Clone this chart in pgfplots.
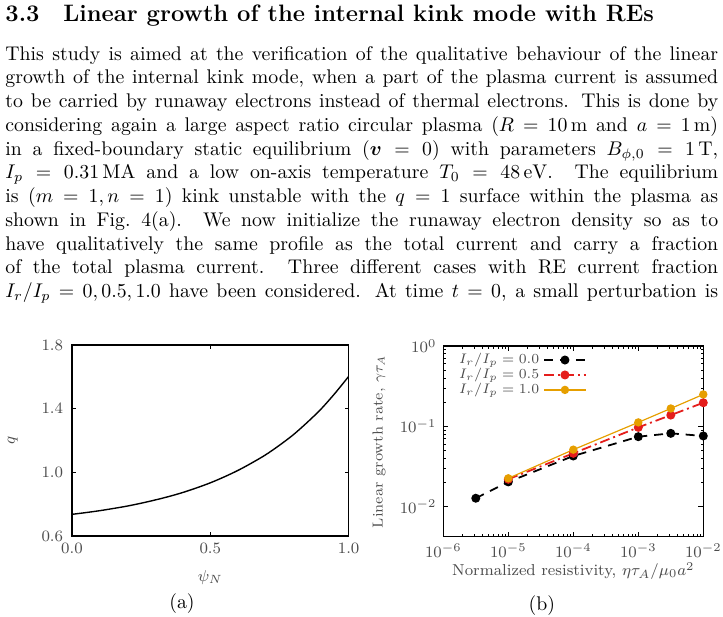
\documentclass[border=0pt]{standalone}
\usepackage{amsmath}
\usepackage{pgfplots}
\pgfplotsset{compat=1.18}
\definecolor{gpred}{RGB}{228,30,28}
\definecolor{gporange}{RGB}{230,159,0}
\definecolor{labgray}{gray}{0.3}

\begin{document}
\begin{tikzpicture}
\path[use as bounding box] (0,0) rectangle (365.15pt,-311.6pt);
\node[anchor=base west, inner sep=0, font=\large\bfseries] at (2.53pt,-10.96pt) {3.3\quad Linear growth of the internal kink mode with REs};
\node[anchor=base west, inner sep=0, text width=360pt, font=\normalsize] at (2.53pt,-30.3pt) {%
\spaceskip=0pt\relax\xspaceskip=0pt\relax\baselineskip=12.2pt\relax
\hbox to \hsize{This study is aimed at the verification of the qualitative behaviour of the linear}
\hbox to \hsize{growth of the internal kink mode, when a part of the plasma current is assumed}
\hbox to \hsize{to be carried by runaway electrons instead of thermal electrons. This is done by}
\hbox to \hsize{considering again a large aspect ratio circular plasma ($R=10\,\mathrm{m}$ and $a=1\,\mathrm{m}$)}
\hbox to \hsize{in a fixed-boundary static equilibrium ($\boldsymbol{v}=0$) with parameters $B_{\phi,0}=1\,\mathrm{T}$,}
\hbox to \hsize{$I_p=0.31\,\mathrm{MA}$ and a low on-axis temperature $T_0=48\,\mathrm{eV}$. The equilibrium}
\hbox to \hsize{is $(m=1,n=1)$ kink unstable with the $q=1$ surface within the plasma as}
\hbox to \hsize{shown in Fig.~4(a). We now initialize the runaway electron density so as to}
\hbox to \hsize{have qualitatively the same profile as the total current and carry a fraction}
\hbox to \hsize{of the total plasma current. Three different cases with RE current fraction}
\hbox to \hsize{$I_r/I_p=0,0.5,1.0$ have been considered. At time $t=0$, a small perturbation is}};

\begin{axis}[
  at={(36.36pt,-270.7pt)}, anchor=south west,
  scale only axis, width=139.7pt, height=96.46pt,
  xmin=0, xmax=1, ymin=0.6, ymax=1.8,
  xtick={0,0.5,1}, ytick={0.6,1.0,1.4,1.8},
  xticklabel style={/pgf/number format/fixed, /pgf/number format/fixed zerofill, /pgf/number format/precision=1},
  yticklabel style={/pgf/number format/fixed, /pgf/number format/fixed zerofill, /pgf/number format/precision=1, xshift=-1pt},
  tick align=inside, major tick length=2pt,
  tick style={black, line width=0.5pt},
  tick label style={font=\footnotesize, text=labgray},
  xlabel={$\psi_N$}, ylabel={$q$},
  label style={font=\footnotesize, text=labgray},
  x label style={at={(axis description cs:0.5,-0.215)}, anchor=center},
  y label style={at={(axis description cs:-0.214,0.5)}, anchor=center},
  axis line style={line width=0.7pt},
]
\addplot[black, line width=0.7pt, smooth] coordinates {
(0.00,0.736) (0.05,0.747) (0.10,0.759) (0.15,0.773) (0.20,0.788) (0.25,0.806)
(0.30,0.826) (0.35,0.848) (0.40,0.873) (0.45,0.902) (0.50,0.934) (0.55,0.971)
(0.60,1.012) (0.65,1.059) (0.70,1.110) (0.75,1.170) (0.80,1.236) (0.85,1.313)
(0.90,1.397) (0.95,1.495) (1.00,1.602)};
\end{axis}
\node[font=\normalsize] at (91.9pt,-305pt) {(a)};

\begin{axis}[
  xmode=log, ymode=log,
  at={(223.9pt,-271.1pt)}, anchor=south west,
  scale only axis, width=131.3pt, height=96.3pt,
  xmin=1e-6, xmax=1e-2, ymin=4.2e-3, ymax=1,
  xtick={1e-6,1e-5,1e-4,1e-3,1e-2}, ytick={1e-2,1e-1,1},
  tick align=inside, major tick length=2.5pt, minor tick length=1.4pt,
  tick style={black, line width=0.5pt},
  tick label style={font=\footnotesize, text=labgray},
  xlabel={Normalized resistivity, $\eta\tau_A/\mu_0a^2$},
  ylabel={Linear growth rate, $\gamma\tau_A$},
  label style={font=\footnotesize, text=labgray},
  x label style={at={(axis description cs:0.5,-0.18)}, anchor=center},
  y label style={at={(axis description cs:-0.247,0.5)}, anchor=center, font=\fontsize{7.3}{8}\selectfont},
  axis line style={line width=0.7pt},
  legend style={draw=none, fill=none, font=\fontsize{7.3}{8.5}\selectfont, text=labgray,
    at={(0.553,0.985)}, anchor=north east, inner sep=0pt, row sep=-3.2pt},
  legend cell align=right, legend plot pos=right,
  legend image code/.code={\draw[mark repeat=2,mark phase=2,#1] plot coordinates {(0cm,0cm) (0.37cm,0cm) (0.74cm,0cm)};},
]
\addplot[black, line width=0.9pt, dash pattern=on 4.5pt off 3.5pt, mark=*, mark size=1.8pt, mark options={solid}] coordinates {
(3.16e-6,0.0127) (1e-5,0.0203) (1e-4,0.0427) (1e-3,0.0743) (3.16e-3,0.0818) (1e-2,0.0759)};
\addlegendentry{$I_r/I_p=0.0$}
\addplot[gpred, line width=0.9pt, dash pattern=on 5pt off 2pt on 1pt off 2pt, mark=*, mark size=1.8pt, mark options={solid}] coordinates {
(1e-5,0.0219) (1e-4,0.0461) (1e-3,0.097) (3.16e-3,0.138) (1e-2,0.197)};
\addlegendentry{$I_r/I_p=0.5$}
\addplot[gporange, line width=0.6pt, mark=*, mark size=1.8pt, mark options={solid}] coordinates {
(1e-5,0.0225) (1e-4,0.0512) (1e-3,0.112) (3.16e-3,0.167) (1e-2,0.25)};
\addlegendentry{$I_r/I_p=1.0$}
\end{axis}
\node[font=\normalsize] at (273.7pt,-305.6pt) {(b)};
\end{tikzpicture}
\end{document}
